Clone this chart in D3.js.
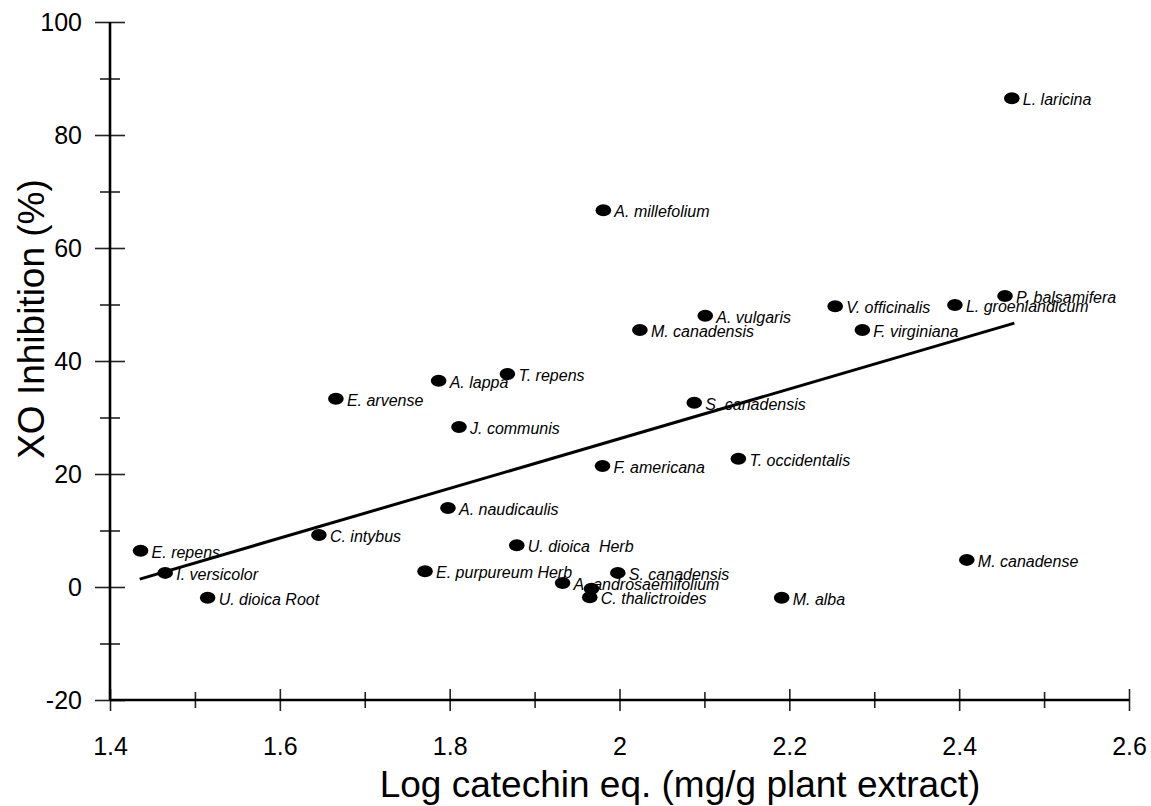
<!DOCTYPE html>
<html lang="en">
<head>
<meta charset="UTF-8">
<script src="https://d3js.org/d3.v7.min.js"></script>
<style>
  html, body { margin: 0; padding: 0; background: #fff; }
  svg { display: block; font-family: "Liberation Sans", Arial, Helvetica, sans-serif; }
</style>
</head>
<body>
<svg id="chart" width="1151" height="806"></svg>
<script>
// plant extracts: log catechin eq. vs XO inhibition
var names = ["L. laricina", "A. millefolium", "P. balsamifera", "V. officinalis", "L. groenlandicum",
  "A. vulgaris", "M. canadensis", "F. virginiana", "T. repens", "A. lappa", "E. arvense",
  "S. canadensis", "J. communis", "T. occidentalis", "F. americana", "A. naudicaulis",
  "C. intybus", "U. dioica  Herb", "E. repens", "M. canadense", "I. versicolor",
  "E. purpureum Herb", "S. canadensis", "A. androsaemifolium", "", "C. thalictroides",
  "U. dioica Root", "M. alba"];
var logCatechin = [2.462, 1.981, 2.454, 2.254, 2.395,
  2.101, 2.024, 2.286, 1.868, 1.787, 1.666,
  2.088, 1.811, 2.140, 1.980, 1.798,
  1.646, 1.879, 1.436, 2.409, 1.465,
  1.771, 1.998, 1.933, 1.967, 1.965,
  1.515, 2.191];
var xoInhibition = [86.5, 66.7, 51.5, 49.7, 49.9,
  48.0, 45.5, 45.5, 37.7, 36.5, 33.3,
  32.6, 28.3, 22.7, 21.4, 14.0,
  9.2, 7.4, 6.4, 4.8, 2.5,
  2.8, 2.5, 0.7, -0.3, -1.8,
  -1.9, -1.9];

// regression line end points [x, y]
var fitLine = [[1.435, 1.4], [2.465, 46.7]];

var xMajor = [1.4, 1.6, 1.8, 2.0, 2.2, 2.4, 2.6];
var xMinor = [1.5, 1.7, 1.9, 2.1, 2.3, 2.5];
var yMajor = [-20, 0, 20, 40, 60, 80, 100];
var yMinor = [-10, 10, 30, 50, 70, 90];

var svg = d3.select("#chart");

var x = d3.scaleLinear().domain([1.4, 2.6]).range([110, 1129]);
var y = d3.scaleLinear().domain([-20, 100]).range([700, 22]);

var x0 = x.range()[0], y0 = y.range()[0];

// y axis tick marks (cross the axis line)
function yTicks(vals, len) {
  svg.append("g").attr("transform", "translate(" + x0 + ",0)")
    .call(d3.axisLeft(y).tickValues(vals).tickSize(len).tickFormat(""))
    .call(function(g) { g.select(".domain").remove(); });
  svg.append("g").attr("transform", "translate(" + x0 + ",0)")
    .call(d3.axisRight(y).tickValues(vals).tickSize(len).tickFormat(""))
    .call(function(g) { g.select(".domain").remove(); });
}
yTicks(yMajor, 15);
yTicks(yMinor, 10);

function xTicks(vals, len) {
  svg.append("g").attr("transform", "translate(0," + y0 + ")")
    .call(d3.axisBottom(x).tickValues(vals).tickSize(len).tickFormat(""))
    .call(function(g) { g.select(".domain").remove(); });
  svg.append("g").attr("transform", "translate(0," + y0 + ")")
    .call(d3.axisTop(x).tickValues(vals).tickSize(len).tickFormat(""))
    .call(function(g) { g.select(".domain").remove(); });
}
xTicks(xMajor, 11);
xTicks(xMinor, 8);

svg.selectAll(".tick line").attr("stroke", "#222").attr("stroke-width", 1.6);

// axis lines
svg.append("line").attr("x1", x0).attr("x2", x0).attr("y1", y(-20)).attr("y2", y(100))
  .attr("stroke", "#000").attr("stroke-width", 2.6);
svg.append("line").attr("x1", x(1.4)).attr("x2", x(2.6)).attr("y1", y0).attr("y2", y0)
  .attr("stroke", "#000").attr("stroke-width", 2.6);

// tick labels (plain hyphen for negatives, like the original)
var yLab = svg.append("g").attr("transform", "translate(" + x0 + ",0)")
  .call(d3.axisLeft(y).tickValues(yMajor).tickSize(0).tickPadding(28).tickFormat(function(d) { return String(d); }));
var xLab = svg.append("g").attr("transform", "translate(0," + y0 + ")")
  .call(d3.axisBottom(x).tickValues(xMajor).tickSize(0).tickPadding(37).tickFormat(function(d) { return String(+d.toFixed(1)); }));
[yLab, xLab].forEach(function(g) {
  g.select(".domain").remove();
  g.selectAll("text").attr("font-size", 25).attr("fill", "#000")
    .attr("font-family", "'Liberation Sans', Arial, sans-serif");
});

// axis titles
svg.append("text").attr("x", 680).attr("y", 797).attr("text-anchor", "middle")
  .attr("font-size", 37).text("Log catechin eq. (mg/g plant extract)");
svg.append("text").attr("transform", "translate(44,319) rotate(-90)").attr("text-anchor", "middle")
  .attr("font-size", 37).text("XO Inhibition (%)");

// regression line
svg.append("path").datum(fitLine)
  .attr("d", d3.line().x(function(d) { return x(d[0]); }).y(function(d) { return y(d[1]); }))
  .attr("stroke", "#000").attr("stroke-width", 3).attr("fill", "none");

// points and labels
var idx = d3.range(names.length);
svg.append("g").selectAll("ellipse").data(idx).join("ellipse")
  .attr("cx", function(i) { return x(logCatechin[i]); })
  .attr("cy", function(i) { return y(xoInhibition[i]); })
  .attr("rx", 7.8).attr("ry", 6).attr("fill", "#000");

svg.append("g").selectAll("text").data(idx).join("text")
  .attr("x", function(i) { return x(logCatechin[i]) + 11; })
  .attr("y", function(i) { return y(xoInhibition[i]) + 7; })
  .attr("font-size", 16).attr("font-style", "italic")
  .style("white-space", "pre")
  .text(function(i) { return names[i]; });
</script>
</body>
</html>
